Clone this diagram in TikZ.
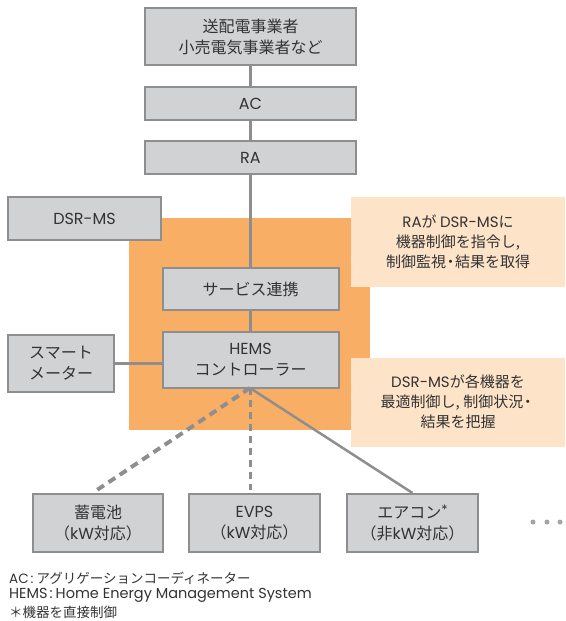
\documentclass[tikz,border=0pt]{standalone}
\usepackage{fontspec}
\setmainfont{Noto Sans CJK JP}
\newfontfamily\lat{Poppins}
\definecolor{boxfill}{HTML}{D1D2D4}
\definecolor{boxline}{HTML}{8E8E90}
\definecolor{txt}{HTML}{333333}
\definecolor{orng}{HTML}{F9AE66}
\definecolor{peach}{HTML}{FDE3C8}
\begin{document}
\begin{tikzpicture}[x=1pt,y=-1pt,
  gbox/.style={draw=boxline,line width=2pt,fill=boxfill,inner sep=0pt,
    minimum width=#1,align=center,text=txt,font=\fontsize{16}{21}\selectfont},
  gbox/.default=211pt,
  conn/.style={draw=boxline,line width=2.5pt},
  notetxt/.style={align=center,text=txt,font=\fontsize{15}{20}\selectfont},
  legend/.style={anchor=west,text=txt,font=\fontsize{13.5}{17}\selectfont,inner sep=0pt}]
\useasboundingbox (0,0) rectangle (565,621);
% orange region and notes
\fill[orng] (129,218) rectangle (370,430);
\fill[peach] (351,197) rectangle (565,287);
\fill[peach] (351,358) rectangle (565,447);
\node[notetxt] (n1) at (458,242) {{\lat RA}が {\lat DSR-MS}に\\機器制御を指令し,\\制御監視\kern-3pt・\kern-3pt結果を取得};
\node[notetxt] (n2) at (458,402) {{\lat DSR-MS}が各機器を\\最適制御し, 制御状況\kern-3pt・\\結果を把握};
% boxes
\node[gbox,minimum height=57pt] (top) at (250.5,36.5) {送配電事業者\\小売電気事業者など};
\node[gbox,minimum height=33pt] (ac) at (250.5,103.5) {\lat AC};
\node[gbox,minimum height=33pt] (ra) at (250.5,157.5) {\lat RA};
\node[gbox=153pt,minimum height=43pt] (dsr) at (84.5,218.5) {\lat DSR-MS};
\node[gbox=176pt,minimum height=42pt] (svc) at (250.5,289) {サービス連携};
\node[gbox=176pt,minimum height=56pt] (hems) at (250.5,360) {{\lat HEMS}\\コントローラー};
\node[gbox=106pt,minimum height=57pt] (sm) at (61,363.5) {スマート\\メーター};
\node[gbox=130pt,minimum height=58pt] (bat) at (98,523) {蓄電池\\（{\lat kW}対応）};
\node[gbox=131pt,minimum height=58pt] (evps) at (254.5,523) {{\lat EVPS}\\（{\lat kW}対応）};
\node[gbox=131pt,minimum height=58pt] (aircon) at (412.5,523) {エアコン\raisebox{4pt}{\fontsize{13}{13}\selectfont\lat *}\\（非{\lat kW}対応）};
% connectors
\coordinate (hb) at (250,388);
\coordinate (batend) at (97,490);
\coordinate (evend) at (250,490);
\draw[conn] (top.south) -- (ac.north);
\draw[conn] (ac.south) -- (ra.north);
\draw[conn] (ra.south) -- (svc.north);
\draw[conn] (svc.south) -- (hems.north);
\draw[conn] (sm.east) -- (sm.east -| hems.west);
\draw[draw=boxline,line width=4pt,dash pattern=on 8pt off 5.5pt] (hb) -- (batend);
\draw[draw=boxline,line width=3pt,dash pattern=on 7pt off 5pt] (hb) -- (evend);
\draw[conn] (hb) -- (aircon.north);
% dots
\foreach \x [count=\i] in {533,547,560} \fill[boxline!80] (\x,522) circle (2.5pt) coordinate (dot\i);
% legend
\node[legend] (l1) at (9,578) {{\lat AC\hspace{2pt}:\hspace{3pt}}アグリゲーションコーディネーター};
\node[legend,font=\fontsize{14.5}{17}\selectfont] (l2) at (9,595) {\lat HEMS\hspace{2pt}:\hspace{3pt}Home Energy Management System};
\node[legend] (l3) at (9,612) {＊機器を直接制御};
\end{tikzpicture}
\end{document}
